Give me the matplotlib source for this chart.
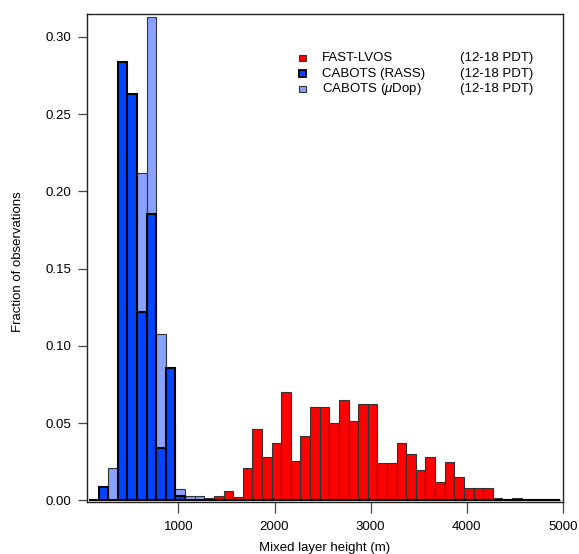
import matplotlib

matplotlib.use("Agg")

import matplotlib.pyplot as plt
import numpy as np
from matplotlib.patches import Rectangle

plt.rcParams["font.family"] = ["Liberation Sans", "DejaVu Sans"]
plt.rcParams["mathtext.fontset"] = "custom"
plt.rcParams["mathtext.rm"] = "Liberation Sans"
plt.rcParams["mathtext.it"] = "Liberation Sans:italic"

# 100 m bins, left edges (m)
bin_left = np.arange(70, 4970, 100)
bin_width = 100

fast_lvos = [
    0, 0, 0, 0, 0, 0, 0, 0, 0, 0, 0, 0,
    0.0015, 0.0026, 0.0058, 0.0021, 0.0209, 0.0463, 0.0279, 0.0372, 0.0703, 0.0258,
    0.042, 0.0604, 0.0604, 0.050, 0.0649, 0.0513, 0.0621, 0.0621, 0.0242, 0.0242,
    0.0372, 0.030, 0.0197, 0.0279, 0.0117, 0.0247, 0.0149, 0.008, 0.008, 0.008,
    0.0015, 0, 0.0015, 0, 0, 0, 0,
]
cabots_rass = [
    0, 0.009, 0, 0.2834, 0.2628, 0.122, 0.185, 0.034, 0.0859, 0.003,
    0, 0, 0, 0, 0, 0, 0, 0, 0, 0,
    0, 0, 0, 0, 0, 0, 0, 0, 0, 0,
    0, 0, 0, 0, 0, 0, 0, 0, 0, 0,
    0, 0, 0, 0, 0, 0, 0, 0, 0,
]
cabots_udop = [
    0, 0, 0.021, 0.15, 0.12, 0.212, 0.3126, 0.1075, 0.05, 0.0073,
    0.0026, 0.0026, 0, 0, 0, 0, 0, 0, 0, 0,
    0, 0, 0, 0, 0, 0, 0, 0, 0, 0,
    0, 0, 0, 0, 0, 0, 0, 0, 0, 0,
    0, 0, 0, 0, 0, 0, 0, 0, 0,
]

series_names = ["FAST-LVOS", "CABOTS (RASS)", "CABOTS ($\\mu$Dop)"]
period_label = "(12-18 PDT)"
x_ticks = [1000, 2000, 3000, 4000, 5000]
y_ticks = [0.00, 0.05, 0.10, 0.15, 0.20, 0.25, 0.30]

RED = "#ff0000"
DARK_BLUE = "#0044ff"
LIGHT_BLUE = "#8aa2ff"

W, H = 579, 554
fig = plt.figure(figsize=(W / 100, H / 100), dpi=100)
ax = fig.add_axes([87 / W, 1 - 502 / H, (563 - 87) / W, (502 - 14) / H])

ax.bar(bin_left, fast_lvos, width=bin_width, align="edge", color=RED,
       edgecolor="#333333", linewidth=0.8, zorder=2)
ax.bar(bin_left, cabots_udop, width=bin_width, align="edge", color=LIGHT_BLUE,
       edgecolor="#333333", linewidth=0.8, zorder=3)
ax.bar(bin_left, cabots_rass, width=bin_width, align="edge", color=DARK_BLUE,
       edgecolor="black", linewidth=1.5, zorder=4)

ax.set_xlim(50, 5000)
ax.set_ylim(-0.001, 0.3147)
ax.set_xticks(x_ticks)
ax.set_xticklabels([str(t) for t in x_ticks])
ax.set_yticks(y_ticks)
ax.set_yticklabels([f"{t:.2f}" for t in y_ticks])

ax.tick_params(axis="x", direction="out", length=8, width=0.9, pad=6,
               labelsize=9.5, color="#444444")
ax.tick_params(axis="y", direction="out", length=6.5, width=0.9, pad=4.5,
               labelsize=9.5, color="#444444")
for spine in ax.spines.values():
    spine.set_linewidth(1.0)
    spine.set_color("#222222")

fig.text(18 / W, 1 - 262 / H, "Fraction of observations", rotation=90,
         ha="center", va="center", fontsize=9.5)
fig.text(325 / W, 1 - 548 / H, "Mixed layer height (m)",
         ha="center", va="center", fontsize=9.5)

# legend, drawn by hand to get the two-column look
legend_styles = [
    (RED, "#333333", 0.8),
    (DARK_BLUE, "black", 1.3),
    (LIGHT_BLUE, "#333333", 0.8),
]
row_y = [58, 73.5, 89]
for name, (face, edge, lw), y in zip(series_names, legend_styles, row_y):
    fig.patches.append(Rectangle((299 / W, 1 - (y + 3) / H), 7 / W, 6 / H,
                                 transform=fig.transFigure, facecolor=face,
                                 edgecolor=edge, linewidth=lw))
    fig.text(322 / W, 1 - y / H, name, ha="left", va="center", fontsize=9.5)
    fig.text(460 / W, 1 - y / H, period_label, ha="left", va="center", fontsize=9.5)

fig.savefig("out.png", dpi=100)
